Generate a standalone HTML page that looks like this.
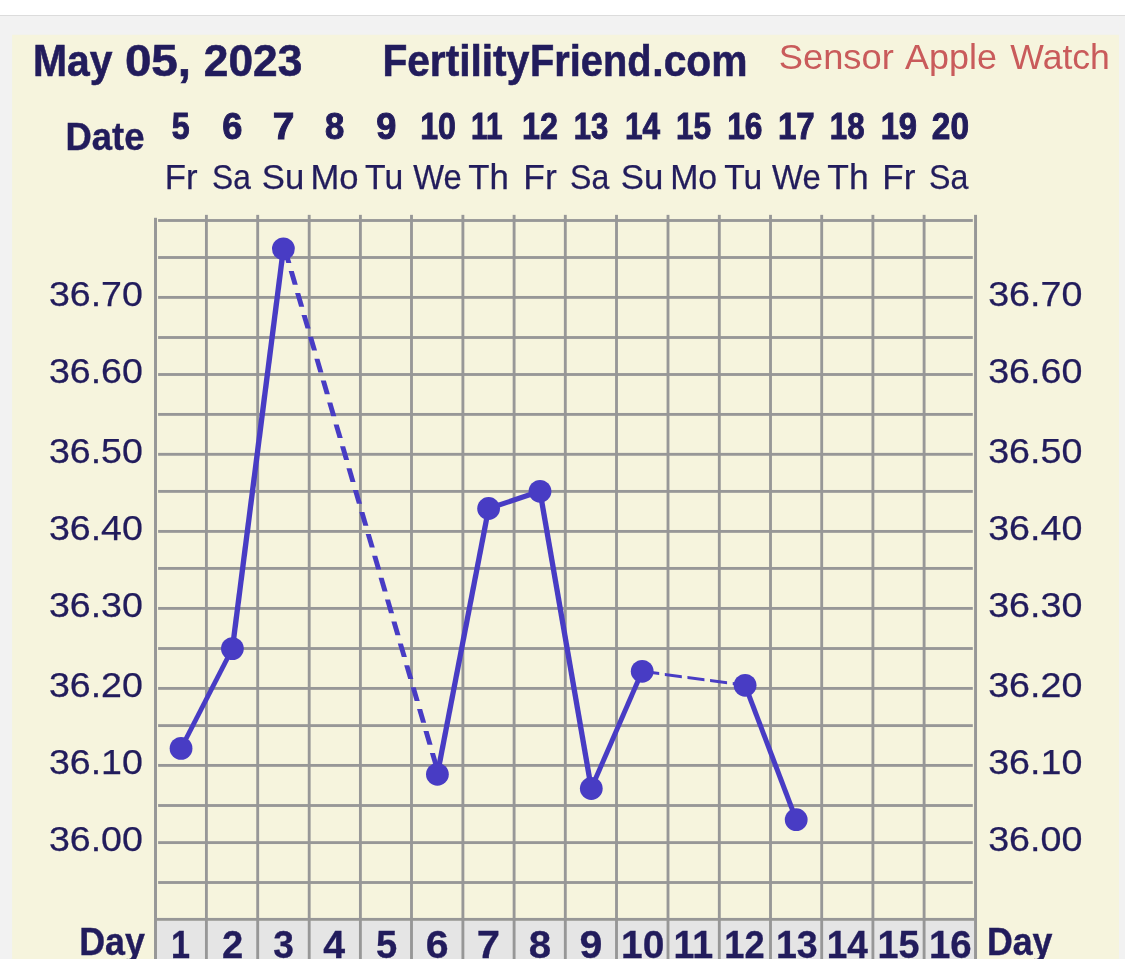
<!DOCTYPE html>
<html><head><meta charset="utf-8"><title>Fertility Chart</title>
<style>
html,body{margin:0;padding:0;background:#fff;width:1125px;height:959px;overflow:hidden}
.wrap{width:1125px;height:959px;will-change:transform}
svg{display:block}
text{font-family:"Liberation Sans",sans-serif}
</style></head><body><div class="wrap">
<svg width="1125" height="959" viewBox="0 0 1125 959">
<rect x="0" y="0" width="1125" height="959" fill="#ffffff"/>
<rect x="0" y="16" width="1125" height="943" fill="#f2f2f2"/>
<rect x="0" y="15" width="1125" height="1" fill="#dcdcdc"/>
<rect x="12.1" y="34.8" width="1106.90" height="924.20" fill="#f6f4dd"/>
<rect x="157" y="920.8" width="817.30" height="40" fill="#e5e5e5"/>
<rect x="158.1" y="219.07" width="814.70" height="2.85" fill="#979797"/>
<rect x="158.1" y="256.07" width="814.70" height="2.85" fill="#979797"/>
<rect x="158.1" y="295.97" width="814.70" height="2.85" fill="#979797"/>
<rect x="158.1" y="336.07" width="814.70" height="2.85" fill="#979797"/>
<rect x="158.1" y="373.07" width="814.70" height="2.85" fill="#979797"/>
<rect x="158.1" y="412.97" width="814.70" height="2.85" fill="#979797"/>
<rect x="158.1" y="452.88" width="814.70" height="2.85" fill="#979797"/>
<rect x="158.1" y="489.97" width="814.70" height="2.85" fill="#979797"/>
<rect x="158.1" y="529.98" width="814.70" height="2.85" fill="#979797"/>
<rect x="158.1" y="566.98" width="814.70" height="2.85" fill="#979797"/>
<rect x="158.1" y="606.98" width="814.70" height="2.85" fill="#979797"/>
<rect x="158.1" y="647.08" width="814.70" height="2.85" fill="#979797"/>
<rect x="158.1" y="686.98" width="814.70" height="2.85" fill="#979797"/>
<rect x="158.1" y="724.18" width="814.70" height="2.85" fill="#979797"/>
<rect x="158.1" y="763.98" width="814.70" height="2.85" fill="#979797"/>
<rect x="158.1" y="804.08" width="814.70" height="2.85" fill="#979797"/>
<rect x="158.1" y="841.18" width="814.70" height="2.85" fill="#979797"/>
<rect x="158.1" y="881.08" width="814.70" height="2.85" fill="#979797"/>
<rect x="156.8" y="917.93" width="817.50" height="2.85" fill="#979797"/>
<rect x="154.03" y="217.8" width="2.95" height="741.20" fill="#979797"/>
<rect x="204.97" y="214.85" width="2.85" height="744.15" fill="#979797"/>
<rect x="256.27" y="214.85" width="2.85" height="744.15" fill="#979797"/>
<rect x="307.77" y="214.85" width="2.85" height="744.15" fill="#979797"/>
<rect x="358.97" y="214.85" width="2.85" height="744.15" fill="#979797"/>
<rect x="410.07" y="214.85" width="2.85" height="744.15" fill="#979797"/>
<rect x="461.47" y="214.85" width="2.85" height="744.15" fill="#979797"/>
<rect x="512.68" y="214.85" width="2.85" height="744.15" fill="#979797"/>
<rect x="563.88" y="214.85" width="2.85" height="744.15" fill="#979797"/>
<rect x="615.08" y="214.85" width="2.85" height="744.15" fill="#979797"/>
<rect x="666.58" y="214.85" width="2.85" height="744.15" fill="#979797"/>
<rect x="717.88" y="214.85" width="2.85" height="744.15" fill="#979797"/>
<rect x="769.08" y="214.85" width="2.85" height="744.15" fill="#979797"/>
<rect x="820.28" y="214.85" width="2.85" height="744.15" fill="#979797"/>
<rect x="871.48" y="214.85" width="2.85" height="744.15" fill="#979797"/>
<rect x="922.68" y="214.85" width="2.85" height="744.15" fill="#979797"/>
<rect x="974.07" y="214.85" width="2.95" height="744.15" fill="#979797"/>
<polygon points="178.35,748.40 183.75,748.40 235.10,648.60 229.70,648.60" fill="#483cc4"/>
<polygon points="229.70,648.60 235.10,648.60 286.10,248.80 280.70,248.80" fill="#483cc4"/>
<polygon points="434.70,774.30 440.10,774.30 491.30,508.50 485.90,508.50" fill="#483cc4"/>
<polygon points="488.60,505.80 488.60,511.20 540.00,494.00 540.00,488.60" fill="#483cc4"/>
<polygon points="537.30,491.30 542.70,491.30 594.00,788.50 588.60,788.50" fill="#483cc4"/>
<polygon points="588.60,788.50 594.00,788.50 644.90,671.30 639.50,671.30" fill="#483cc4"/>
<polygon points="742.40,685.30 747.80,685.30 798.90,819.70 793.50,819.70" fill="#483cc4"/>
<polygon points="282.27,249.20 287.37,249.20 291.38,262.90 286.28,262.90" fill="#483cc4"/>
<polygon points="288.69,271.10 293.79,271.10 297.80,284.80 292.70,284.80" fill="#483cc4"/>
<polygon points="295.10,293.00 300.20,293.00 304.22,306.70 299.12,306.70" fill="#483cc4"/>
<polygon points="301.52,314.90 306.62,314.90 310.64,328.60 305.54,328.60" fill="#483cc4"/>
<polygon points="307.94,336.80 313.04,336.80 317.05,350.50 311.95,350.50" fill="#483cc4"/>
<polygon points="314.36,358.70 319.46,358.70 323.47,372.40 318.37,372.40" fill="#483cc4"/>
<polygon points="320.77,380.60 325.87,380.60 329.89,394.30 324.79,394.30" fill="#483cc4"/>
<polygon points="327.19,402.50 332.29,402.50 336.31,416.20 331.21,416.20" fill="#483cc4"/>
<polygon points="333.61,424.40 338.71,424.40 342.73,438.10 337.63,438.10" fill="#483cc4"/>
<polygon points="340.03,446.30 345.13,446.30 349.14,460.00 344.04,460.00" fill="#483cc4"/>
<polygon points="346.45,468.20 351.55,468.20 355.56,481.90 350.46,481.90" fill="#483cc4"/>
<polygon points="352.86,490.10 357.96,490.10 361.98,503.80 356.88,503.80" fill="#483cc4"/>
<polygon points="359.28,512.00 364.38,512.00 368.40,525.70 363.30,525.70" fill="#483cc4"/>
<polygon points="365.70,533.90 370.80,533.90 374.81,547.60 369.71,547.60" fill="#483cc4"/>
<polygon points="372.12,555.80 377.22,555.80 381.23,569.50 376.13,569.50" fill="#483cc4"/>
<polygon points="378.54,577.70 383.64,577.70 387.65,591.40 382.55,591.40" fill="#483cc4"/>
<polygon points="384.95,599.60 390.05,599.60 394.07,613.30 388.97,613.30" fill="#483cc4"/>
<polygon points="391.37,621.50 396.47,621.50 400.49,635.20 395.39,635.20" fill="#483cc4"/>
<polygon points="397.79,643.40 402.89,643.40 406.90,657.10 401.80,657.10" fill="#483cc4"/>
<polygon points="404.21,665.30 409.31,665.30 413.32,679.00 408.22,679.00" fill="#483cc4"/>
<polygon points="410.62,687.20 415.72,687.20 419.74,700.90 414.64,700.90" fill="#483cc4"/>
<polygon points="417.04,709.10 422.14,709.10 426.16,722.80 421.06,722.80" fill="#483cc4"/>
<polygon points="423.46,731.00 428.56,731.00 432.58,744.70 427.48,744.70" fill="#483cc4"/>
<polygon points="429.88,752.90 434.98,752.90 438.99,766.60 433.89,766.60" fill="#483cc4"/>
<polygon points="642.20,669.80 642.20,672.80 659.20,675.11 659.20,672.11" fill="#483cc4"/>
<polygon points="664.83,672.88 664.83,675.88 681.83,678.19 681.83,675.19" fill="#483cc4"/>
<polygon points="687.46,675.96 687.46,678.96 704.46,681.27 704.46,678.27" fill="#483cc4"/>
<polygon points="710.09,679.04 710.09,682.04 727.09,684.35 727.09,681.35" fill="#483cc4"/>
<polygon points="732.72,682.12 732.72,685.12 745.10,686.80 745.10,683.80" fill="#483cc4"/>
<circle cx="181.05" cy="748.4" r="11.4" fill="#483cc4"/>
<circle cx="232.4" cy="648.6" r="11.4" fill="#483cc4"/>
<circle cx="283.4" cy="248.8" r="11.4" fill="#483cc4"/>
<circle cx="437.4" cy="774.3" r="11.4" fill="#483cc4"/>
<circle cx="488.6" cy="508.5" r="11.4" fill="#483cc4"/>
<circle cx="540" cy="491.3" r="11.4" fill="#483cc4"/>
<circle cx="591.3" cy="788.5" r="11.4" fill="#483cc4"/>
<circle cx="642.2" cy="671.3" r="11.4" fill="#483cc4"/>
<circle cx="745.1" cy="685.3" r="11.4" fill="#483cc4"/>
<circle cx="796.2" cy="819.7" r="11.4" fill="#483cc4"/>
<text x="32.98" y="75.70" font-size="44.35" font-weight="bold" fill="#221c5c" textLength="79.47" lengthAdjust="spacingAndGlyphs" stroke="#221c5c" stroke-width="0.6">May</text>
<text x="124.91" y="75.70" font-size="44.36" font-weight="bold" fill="#221c5c" textLength="66.12" lengthAdjust="spacingAndGlyphs" stroke="#221c5c" stroke-width="0.6">05,</text>
<text x="203.83" y="75.70" font-size="44.36" font-weight="bold" fill="#221c5c" textLength="98.45" lengthAdjust="spacingAndGlyphs" stroke="#221c5c" stroke-width="0.6">2023</text>
<text x="382.38" y="75.70" font-size="44.06" font-weight="bold" fill="#221c5c" textLength="146.92" lengthAdjust="spacingAndGlyphs" stroke="#221c5c" stroke-width="0.6">Fertility</text>
<text x="530.00" y="75.70" font-size="44.06" font-weight="bold" fill="#221c5c" textLength="121.44" lengthAdjust="spacingAndGlyphs" stroke="#221c5c" stroke-width="0.6">Friend</text>
<text x="652.33" y="75.70" font-size="44.06" font-weight="bold" fill="#221c5c" textLength="95.20" lengthAdjust="spacingAndGlyphs" stroke="#221c5c" stroke-width="0.6">.com</text>
<text x="778.73" y="68.90" font-size="34.35" font-weight="normal" fill="#c95b5b" textLength="115.06" lengthAdjust="spacingAndGlyphs">Sensor</text>
<text x="905.12" y="68.90" font-size="34.35" font-weight="normal" fill="#c95b5b" textLength="91.77" lengthAdjust="spacingAndGlyphs">Apple</text>
<text x="1010.38" y="68.90" font-size="34.35" font-weight="normal" fill="#c95b5b" textLength="99.53" lengthAdjust="spacingAndGlyphs">Watch</text>
<text x="65.54" y="150.40" font-size="38.12" font-weight="bold" fill="#221c5c" textLength="78.96" lengthAdjust="spacingAndGlyphs" stroke="#221c5c" stroke-width="0.4">Date</text>
<text x="171.71" y="138.90" font-size="37.57" font-weight="bold" fill="#221c5c" textLength="17.85" lengthAdjust="spacingAndGlyphs" stroke="#221c5c" stroke-width="1.0">5</text>
<text x="222.13" y="138.90" font-size="37.57" font-weight="bold" fill="#221c5c" textLength="20.15" lengthAdjust="spacingAndGlyphs" stroke="#221c5c" stroke-width="1.0">6</text>
<text x="272.66" y="138.90" font-size="37.57" font-weight="bold" fill="#221c5c" textLength="21.65" lengthAdjust="spacingAndGlyphs" stroke="#221c5c" stroke-width="1.0">7</text>
<text x="325.01" y="138.90" font-size="37.57" font-weight="bold" fill="#221c5c" textLength="19.28" lengthAdjust="spacingAndGlyphs" stroke="#221c5c" stroke-width="1.0">8</text>
<text x="376.18" y="138.90" font-size="37.57" font-weight="bold" fill="#221c5c" textLength="20.10" lengthAdjust="spacingAndGlyphs" stroke="#221c5c" stroke-width="1.0">9</text>
<text x="420.14" y="138.90" font-size="37.57" font-weight="bold" fill="#221c5c" textLength="35.65" lengthAdjust="spacingAndGlyphs" stroke="#221c5c" stroke-width="1.0">10</text>
<text x="470.99" y="138.90" font-size="37.57" font-weight="bold" fill="#221c5c" textLength="31.46" lengthAdjust="spacingAndGlyphs" stroke="#221c5c" stroke-width="1.0">11</text>
<text x="522.09" y="138.90" font-size="37.57" font-weight="bold" fill="#221c5c" textLength="35.90" lengthAdjust="spacingAndGlyphs" stroke="#221c5c" stroke-width="1.0">12</text>
<text x="573.84" y="138.90" font-size="37.57" font-weight="bold" fill="#221c5c" textLength="34.52" lengthAdjust="spacingAndGlyphs" stroke="#221c5c" stroke-width="1.0">13</text>
<text x="625.08" y="138.90" font-size="37.57" font-weight="bold" fill="#221c5c" textLength="35.03" lengthAdjust="spacingAndGlyphs" stroke="#221c5c" stroke-width="1.0">14</text>
<text x="675.99" y="138.90" font-size="37.57" font-weight="bold" fill="#221c5c" textLength="35.27" lengthAdjust="spacingAndGlyphs" stroke="#221c5c" stroke-width="1.0">15</text>
<text x="727.16" y="138.90" font-size="37.57" font-weight="bold" fill="#221c5c" textLength="35.25" lengthAdjust="spacingAndGlyphs" stroke="#221c5c" stroke-width="1.0">16</text>
<text x="777.92" y="138.90" font-size="37.57" font-weight="bold" fill="#221c5c" textLength="36.79" lengthAdjust="spacingAndGlyphs" stroke="#221c5c" stroke-width="1.0">17</text>
<text x="829.77" y="138.90" font-size="37.57" font-weight="bold" fill="#221c5c" textLength="34.74" lengthAdjust="spacingAndGlyphs" stroke="#221c5c" stroke-width="1.0">18</text>
<text x="880.66" y="138.90" font-size="37.57" font-weight="bold" fill="#221c5c" textLength="36.39" lengthAdjust="spacingAndGlyphs" stroke="#221c5c" stroke-width="1.0">19</text>
<text x="931.86" y="138.90" font-size="37.57" font-weight="bold" fill="#221c5c" textLength="37.14" lengthAdjust="spacingAndGlyphs" stroke="#221c5c" stroke-width="1.0">20</text>
<text x="164.86" y="188.97" font-size="34.42" font-weight="normal" fill="#221c5c" textLength="32.80" lengthAdjust="spacingAndGlyphs" stroke="#221c5c" stroke-width="0.25">Fr</text>
<text x="212.00" y="188.97" font-size="34.42" font-weight="normal" fill="#221c5c" textLength="38.78" lengthAdjust="spacingAndGlyphs" stroke="#221c5c" stroke-width="0.25">Sa</text>
<text x="261.75" y="188.97" font-size="34.42" font-weight="normal" fill="#221c5c" textLength="42.43" lengthAdjust="spacingAndGlyphs" stroke="#221c5c" stroke-width="0.25">Su</text>
<text x="310.48" y="188.97" font-size="34.42" font-weight="normal" fill="#221c5c" textLength="48.03" lengthAdjust="spacingAndGlyphs" stroke="#221c5c" stroke-width="0.25">Mo</text>
<text x="365.11" y="188.97" font-size="34.42" font-weight="normal" fill="#221c5c" textLength="38.12" lengthAdjust="spacingAndGlyphs" stroke="#221c5c" stroke-width="0.25">Tu</text>
<text x="413.30" y="188.97" font-size="34.42" font-weight="normal" fill="#221c5c" textLength="48.42" lengthAdjust="spacingAndGlyphs" stroke="#221c5c" stroke-width="0.25">We</text>
<text x="468.27" y="188.97" font-size="34.42" font-weight="normal" fill="#221c5c" textLength="40.54" lengthAdjust="spacingAndGlyphs" stroke="#221c5c" stroke-width="0.25">Th</text>
<text x="523.38" y="188.97" font-size="34.42" font-weight="normal" fill="#221c5c" textLength="33.45" lengthAdjust="spacingAndGlyphs" stroke="#221c5c" stroke-width="0.25">Fr</text>
<text x="570.07" y="188.97" font-size="34.42" font-weight="normal" fill="#221c5c" textLength="39.21" lengthAdjust="spacingAndGlyphs" stroke="#221c5c" stroke-width="0.25">Sa</text>
<text x="620.77" y="188.97" font-size="34.42" font-weight="normal" fill="#221c5c" textLength="42.53" lengthAdjust="spacingAndGlyphs" stroke="#221c5c" stroke-width="0.25">Su</text>
<text x="670.18" y="188.97" font-size="34.42" font-weight="normal" fill="#221c5c" textLength="46.98" lengthAdjust="spacingAndGlyphs" stroke="#221c5c" stroke-width="0.25">Mo</text>
<text x="724.28" y="188.97" font-size="34.42" font-weight="normal" fill="#221c5c" textLength="37.99" lengthAdjust="spacingAndGlyphs" stroke="#221c5c" stroke-width="0.25">Tu</text>
<text x="772.08" y="188.97" font-size="34.42" font-weight="normal" fill="#221c5c" textLength="48.76" lengthAdjust="spacingAndGlyphs" stroke="#221c5c" stroke-width="0.25">We</text>
<text x="827.32" y="188.97" font-size="34.42" font-weight="normal" fill="#221c5c" textLength="41.31" lengthAdjust="spacingAndGlyphs" stroke="#221c5c" stroke-width="0.25">Th</text>
<text x="882.33" y="188.97" font-size="34.42" font-weight="normal" fill="#221c5c" textLength="33.06" lengthAdjust="spacingAndGlyphs" stroke="#221c5c" stroke-width="0.25">Fr</text>
<text x="929.08" y="188.97" font-size="34.42" font-weight="normal" fill="#221c5c" textLength="39.33" lengthAdjust="spacingAndGlyphs" stroke="#221c5c" stroke-width="0.25">Sa</text>
<text x="48.93" y="305.88" font-size="34.86" font-weight="normal" fill="#221c5c" textLength="93.96" lengthAdjust="spacingAndGlyphs" stroke="#221c5c" stroke-width="0.25">36.70</text>
<text x="988.17" y="305.88" font-size="34.86" font-weight="normal" fill="#221c5c" textLength="94.23" lengthAdjust="spacingAndGlyphs" stroke="#221c5c" stroke-width="0.25">36.70</text>
<text x="48.93" y="382.88" font-size="34.86" font-weight="normal" fill="#221c5c" textLength="93.96" lengthAdjust="spacingAndGlyphs" stroke="#221c5c" stroke-width="0.25">36.60</text>
<text x="988.17" y="382.88" font-size="34.86" font-weight="normal" fill="#221c5c" textLength="94.23" lengthAdjust="spacingAndGlyphs" stroke="#221c5c" stroke-width="0.25">36.60</text>
<text x="48.93" y="462.88" font-size="34.86" font-weight="normal" fill="#221c5c" textLength="93.96" lengthAdjust="spacingAndGlyphs" stroke="#221c5c" stroke-width="0.25">36.50</text>
<text x="988.17" y="462.88" font-size="34.86" font-weight="normal" fill="#221c5c" textLength="94.23" lengthAdjust="spacingAndGlyphs" stroke="#221c5c" stroke-width="0.25">36.50</text>
<text x="48.93" y="539.88" font-size="34.86" font-weight="normal" fill="#221c5c" textLength="93.96" lengthAdjust="spacingAndGlyphs" stroke="#221c5c" stroke-width="0.25">36.40</text>
<text x="988.17" y="539.88" font-size="34.86" font-weight="normal" fill="#221c5c" textLength="94.23" lengthAdjust="spacingAndGlyphs" stroke="#221c5c" stroke-width="0.25">36.40</text>
<text x="48.93" y="616.88" font-size="34.86" font-weight="normal" fill="#221c5c" textLength="93.96" lengthAdjust="spacingAndGlyphs" stroke="#221c5c" stroke-width="0.25">36.30</text>
<text x="988.17" y="616.88" font-size="34.86" font-weight="normal" fill="#221c5c" textLength="94.23" lengthAdjust="spacingAndGlyphs" stroke="#221c5c" stroke-width="0.25">36.30</text>
<text x="48.93" y="696.88" font-size="34.86" font-weight="normal" fill="#221c5c" textLength="93.96" lengthAdjust="spacingAndGlyphs" stroke="#221c5c" stroke-width="0.25">36.20</text>
<text x="988.17" y="696.88" font-size="34.86" font-weight="normal" fill="#221c5c" textLength="94.23" lengthAdjust="spacingAndGlyphs" stroke="#221c5c" stroke-width="0.25">36.20</text>
<text x="48.93" y="773.88" font-size="34.86" font-weight="normal" fill="#221c5c" textLength="93.96" lengthAdjust="spacingAndGlyphs" stroke="#221c5c" stroke-width="0.25">36.10</text>
<text x="988.17" y="773.88" font-size="34.86" font-weight="normal" fill="#221c5c" textLength="94.23" lengthAdjust="spacingAndGlyphs" stroke="#221c5c" stroke-width="0.25">36.10</text>
<text x="48.93" y="850.88" font-size="34.86" font-weight="normal" fill="#221c5c" textLength="93.96" lengthAdjust="spacingAndGlyphs" stroke="#221c5c" stroke-width="0.25">36.00</text>
<text x="988.17" y="850.88" font-size="34.86" font-weight="normal" fill="#221c5c" textLength="94.23" lengthAdjust="spacingAndGlyphs" stroke="#221c5c" stroke-width="0.25">36.00</text>
<text x="79.15" y="954.80" font-size="38.12" font-weight="bold" fill="#221c5c" textLength="65.67" lengthAdjust="spacingAndGlyphs" stroke="#221c5c" stroke-width="0.4">Day</text>
<text x="986.88" y="954.80" font-size="38.12" font-weight="bold" fill="#221c5c" textLength="65.61" lengthAdjust="spacingAndGlyphs" stroke="#221c5c" stroke-width="0.4">Day</text>
<text x="171.00" y="957.85" font-size="38.14" font-weight="bold" fill="#221c5c" textLength="19.02" lengthAdjust="spacingAndGlyphs" stroke="#221c5c" stroke-width="0.3">1</text>
<text x="222.00" y="957.85" font-size="38.14" font-weight="bold" fill="#221c5c" textLength="21.27" lengthAdjust="spacingAndGlyphs" stroke="#221c5c" stroke-width="0.3">2</text>
<text x="273.19" y="957.85" font-size="38.14" font-weight="bold" fill="#221c5c" textLength="20.71" lengthAdjust="spacingAndGlyphs" stroke="#221c5c" stroke-width="0.3">3</text>
<text x="323.27" y="957.85" font-size="38.14" font-weight="bold" fill="#221c5c" textLength="21.87" lengthAdjust="spacingAndGlyphs" stroke="#221c5c" stroke-width="0.3">4</text>
<text x="375.92" y="957.85" font-size="38.14" font-weight="bold" fill="#221c5c" textLength="21.24" lengthAdjust="spacingAndGlyphs" stroke="#221c5c" stroke-width="0.3">5</text>
<text x="425.74" y="957.85" font-size="38.14" font-weight="bold" fill="#221c5c" textLength="22.85" lengthAdjust="spacingAndGlyphs" stroke="#221c5c" stroke-width="0.3">6</text>
<text x="476.66" y="957.85" font-size="38.14" font-weight="bold" fill="#221c5c" textLength="23.30" lengthAdjust="spacingAndGlyphs" stroke="#221c5c" stroke-width="0.3">7</text>
<text x="528.72" y="957.85" font-size="38.14" font-weight="bold" fill="#221c5c" textLength="22.40" lengthAdjust="spacingAndGlyphs" stroke="#221c5c" stroke-width="0.3">8</text>
<text x="579.46" y="957.85" font-size="38.14" font-weight="bold" fill="#221c5c" textLength="22.94" lengthAdjust="spacingAndGlyphs" stroke="#221c5c" stroke-width="0.3">9</text>
<text x="621.02" y="957.85" font-size="38.14" font-weight="bold" fill="#221c5c" textLength="43.30" lengthAdjust="spacingAndGlyphs" stroke="#221c5c" stroke-width="0.3">10</text>
<text x="673.45" y="957.85" font-size="38.14" font-weight="bold" fill="#221c5c" textLength="39.77" lengthAdjust="spacingAndGlyphs" stroke="#221c5c" stroke-width="0.3">11</text>
<text x="724.19" y="957.85" font-size="38.14" font-weight="bold" fill="#221c5c" textLength="40.40" lengthAdjust="spacingAndGlyphs" stroke="#221c5c" stroke-width="0.3">12</text>
<text x="775.94" y="957.85" font-size="38.14" font-weight="bold" fill="#221c5c" textLength="41.80" lengthAdjust="spacingAndGlyphs" stroke="#221c5c" stroke-width="0.3">13</text>
<text x="826.72" y="957.85" font-size="38.14" font-weight="bold" fill="#221c5c" textLength="41.19" lengthAdjust="spacingAndGlyphs" stroke="#221c5c" stroke-width="0.3">14</text>
<text x="877.55" y="957.85" font-size="38.14" font-weight="bold" fill="#221c5c" textLength="42.06" lengthAdjust="spacingAndGlyphs" stroke="#221c5c" stroke-width="0.3">15</text>
<text x="928.95" y="957.85" font-size="38.14" font-weight="bold" fill="#221c5c" textLength="42.74" lengthAdjust="spacingAndGlyphs" stroke="#221c5c" stroke-width="0.3">16</text>
</svg></div>
</body></html>
